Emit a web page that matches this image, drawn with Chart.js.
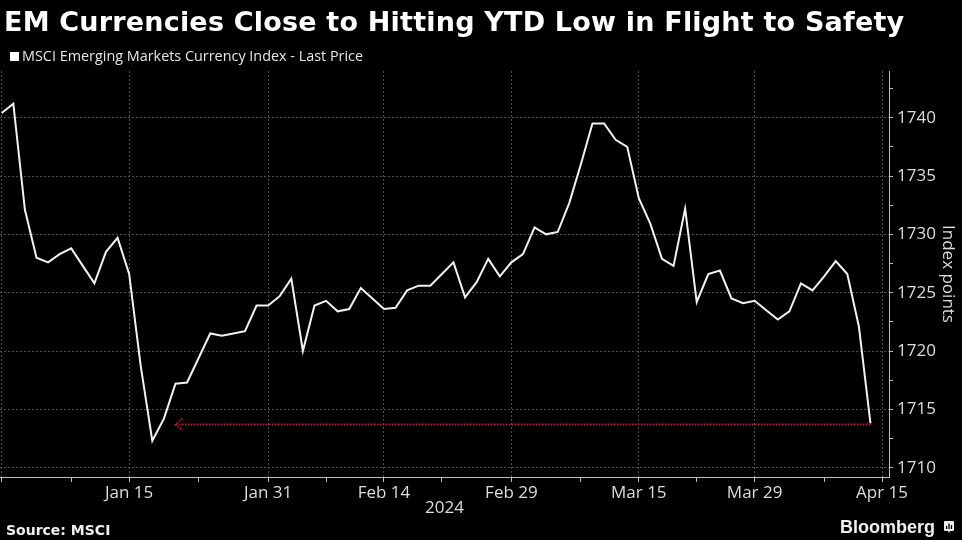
<!DOCTYPE html>
<html>
<head>
<meta charset="utf-8">
<script src="https://cdn.jsdelivr.net/npm/chart.js@4.4.1/dist/chart.umd.min.js"></script>
<style>
  html, body { margin: 0; padding: 0; background: #000; }
  #wrap { position: relative; width: 962px; height: 540px; overflow: hidden; background: #000; }
  #chart { position: absolute; left: 0; top: 0; }
  .title { position: absolute; left: 4px; top: 8px; font: bold 27px "DejaVu Sans", sans-serif; letter-spacing: 0.2px; line-height: 1; color: #fff; white-space: nowrap; }
  .legend { position: absolute; left: 10px; top: 49px; font: 14.4px "Open Sans", sans-serif; line-height: 1; color: #e6e6e6; white-space: nowrap; }
  .legend i { display: inline-block; width: 9px; height: 9px; background: #fff; margin-right: 3px; vertical-align: 0; }
  .source { position: absolute; left: 6px; top: 523px; font: bold 14px "DejaVu Sans", sans-serif; line-height: 1; color: #f0f0f0; }
  .brand { position: absolute; left: 840px; top: 518px; font: bold 18px "Liberation Sans", sans-serif; line-height: 1; color: #f0f0f0; }
  .brand svg { position: absolute; left: 104px; top: 3px; }
</style>
</head>
<body>
<div id="wrap">
  <canvas id="chart" width="962" height="540"></canvas>
  <div class="title">EM Currencies Close to Hitting YTD Low in Flight to Safety</div>
  <div class="legend"><i></i>MSCI Emerging Markets Currency Index - Last Price</div>
  <div class="source">Source: MSCI</div>
  <div class="brand">Bloomberg<svg width="10" height="12" viewBox="0 0 10 12"><path d="M1 0h8a1 1 0 0 1 1 1v8a1 1 0 0 1-1 1H6l-1 2-1-2H1a1 1 0 0 1-1-1V1a1 1 0 0 1 1-1z" fill="#f0f0f0"/><rect x="2" y="5" width="1.3" height="3" fill="#000"/><rect x="4.4" y="2.5" width="1.3" height="5.5" fill="#000"/><rect x="6.8" y="4" width="1.3" height="4" fill="#000"/></svg></div>
</div>
<script>
// trading days from Dec 29, 2023 (index 0) to Apr 12, 2024 (index 75)
const msciValues = [
  1740.4, 1741.2, 1732.1, 1728.0, 1727.6, 1728.3, 1728.8, 1727.3, 1725.8, 1728.5,
  1729.7, 1726.6, 1718.7, 1712.3, 1714.2, 1717.2, 1717.3, 1719.4, 1721.5, 1721.3,
  1721.5, 1721.7, 1723.9, 1723.9, 1724.7, 1726.2, 1720.0, 1723.9, 1724.3, 1723.4,
  1723.6, 1725.4, 1724.5, 1723.6, 1723.7, 1725.2, 1725.6, 1725.6, 1726.6, 1727.6,
  1724.6, 1725.9, 1727.9, 1726.4, 1727.6, 1728.3, 1730.6, 1730.0, 1730.2, 1732.7,
  1736.0, 1739.5, 1739.5, 1738.1, 1737.5, 1733.1, 1730.9, 1727.9, 1727.3, 1732.2,
  1724.2, 1726.6, 1726.9, 1724.5, 1724.1, 1724.3, 1723.5, 1722.7, 1723.4, 1725.8,
  1725.2, 1726.4, 1727.7, 1726.6, 1722.1, 1713.8
];

// x axis ticks (trading-day index) and their labels
const tickDays = [0, 6, 11, 17, 23, 28, 33, 38, 44, 50, 55, 60, 65, 71, 76];
const tickLabels = ['', '', 'Jan 15', '', 'Jan 31', '', 'Feb 14', '', 'Feb 29', '', 'Mar 15', '', 'Mar 29', '', 'Apr 15'];
const gridDays = [0, 11, 23, 33, 44, 55, 65, 76];

const yTicks = [1710, 1712.5, 1715, 1717.5, 1720, 1722.5, 1725, 1727.5, 1730, 1732.5, 1735, 1737.5, 1740, 1742.5];
const yLabels = ['1710', '', '1715', '', '1720', '', '1725', '', '1730', '', '1735', '', '1740', ''];

// YTD low marker: dotted arrow from the last price back towards the January low
const arrowFrom = 75;
const arrowTo = 15;
const arrowLevel = 1713.7;

const points = msciValues.map((v, i) => ({x: i, y: v}));

const arrowPlugin = {
  id: 'ytdArrow',
  afterDatasetsDraw(chart) {
    const {ctx, scales: {x, y}} = chart;
    const x1 = x.getPixelForValue(arrowFrom);
    const x2 = x.getPixelForValue(arrowTo);
    const yy = y.getPixelForValue(arrowLevel);
    ctx.save();
    ctx.strokeStyle = '#c8173f';
    ctx.lineWidth = 1.8;
    ctx.setLineDash([1.5, 1.5]);
    ctx.beginPath();
    ctx.moveTo(x1, yy);
    ctx.lineTo(x2, yy);
    ctx.stroke();
    ctx.beginPath();
    ctx.moveTo(x2 + 7, yy - 6);
    ctx.lineTo(x2, yy);
    ctx.lineTo(x2 + 7, yy + 6);
    ctx.stroke();
    ctx.restore();
  }
};

const tickFont = {family: 'Open Sans', size: 17};

new Chart(document.getElementById('chart'), {
  type: 'line',
  data: {
    datasets: [{
      label: 'MSCI Emerging Markets Currency Index - Last Price',
      data: points,
      borderColor: '#f2f2f2',
      borderWidth: 2,
      pointRadius: 0,
      tension: 0
    }]
  },
  options: {
    responsive: false,
    animation: false,
    devicePixelRatio: 1,
    layout: {padding: {left: 0, right: 0, top: 71, bottom: 22}},
    plugins: {legend: {display: false}, tooltip: {enabled: false}},
    scales: {
      x: {
        type: 'linear',
        min: -0.15,
        max: 76.6,
        afterBuildTicks: (scale) => { scale.ticks = tickDays.map(v => ({value: v})); },
        afterFit: (scale) => { scale.height = 41; },
        ticks: {
          autoSkip: false,
          maxRotation: 0,
          padding: 1,
          color: '#dcdcdc',
          font: tickFont,
          callback: (value, index) => tickLabels[index]
        },
        grid: {
          color: (ctx) => ctx.tick && gridDays.includes(ctx.tick.value) ? '#505050' : 'transparent',
          tickColor: '#bdbdbd',
          tickLength: 5,
          lineWidth: 1
        },
        border: {display: true, color: '#bdbdbd', width: 1, dash: [2, 2]},
        title: {display: true, text: '2024', color: '#dcdcdc', font: tickFont, padding: {top: 0, bottom: 0}}
      },
      y: {
        position: 'right',
        min: 1709.2,
        max: 1744,
        afterBuildTicks: (scale) => { scale.ticks = yTicks.map(v => ({value: v})); },
        afterFit: (scale) => { scale.width = 73; },
        ticks: {
          padding: 4,
          color: '#dcdcdc',
          font: tickFont,
          callback: (value, index) => yLabels[index]
        },
        grid: {
          color: (ctx) => ctx.tick && ctx.tick.value % 5 === 0 ? '#505050' : 'transparent',
          tickColor: '#bdbdbd',
          tickLength: 4,
          lineWidth: 1
        },
        border: {display: true, color: '#bdbdbd', width: 1, dash: [2, 2]},
        title: {display: true, text: 'Index points', color: '#dcdcdc', font: tickFont, padding: {top: 4, bottom: 0}}
      }
    }
  },
  plugins: [arrowPlugin]
});
</script>
</body>
</html>
